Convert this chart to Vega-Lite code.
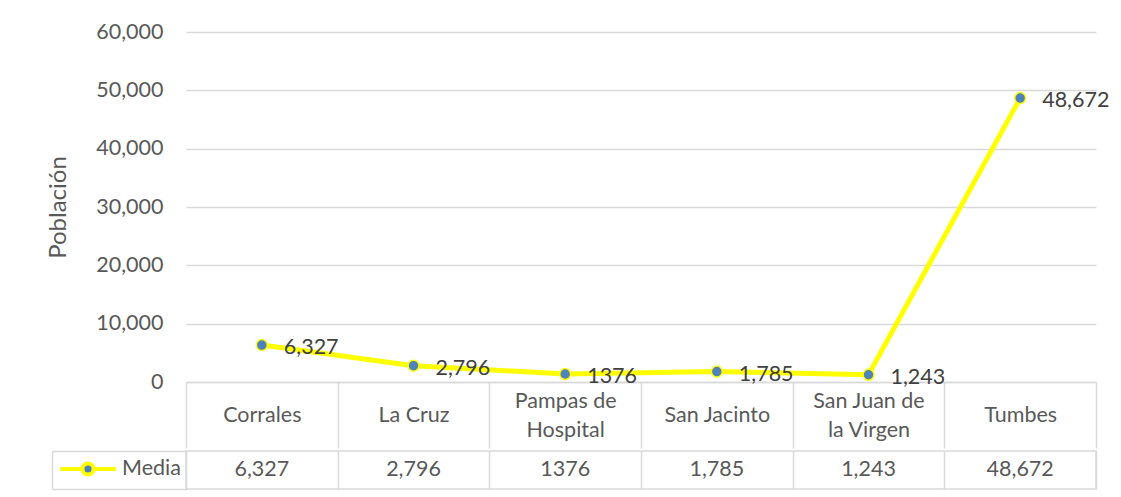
{
  "$schema": "https://vega.github.io/schema/vega-lite/v6.json",
  "padding": {"left": 46, "top": 21, "right": 10, "bottom": 5},
  "background": "white",
  "config": {"font": "Lato", "view": {"stroke": null}},
  "datasets": {
    "pob": [
      {"distrito": "Corrales", "serie": "Media", "poblacion": 6327, "etiqueta": "6,327"},
      {"distrito": "La Cruz", "serie": "Media", "poblacion": 2796, "etiqueta": "2,796"},
      {"distrito": "Pampas de Hospital", "serie": "Media", "poblacion": 1376, "etiqueta": "1376"},
      {"distrito": "San Jacinto", "serie": "Media", "poblacion": 1785, "etiqueta": "1,785"},
      {"distrito": "San Juan de la Virgen", "serie": "Media", "poblacion": 1243, "etiqueta": "1,243"},
      {"distrito": "Tumbes", "serie": "Media", "poblacion": 48672, "etiqueta": "48,672"}
    ]
  },
  "spacing": 0,
  "vconcat": [
    {
      "width": 910,
      "height": 350,
      "data": {"name": "pob"},
      "encoding": {
        "x": {
          "field": "distrito", "type": "nominal", "sort": null, "bandPosition": 0.5,
          "scale": {"type": "band", "paddingInner": 0, "paddingOuter": 0},
          "axis": {
            "title": null, "orient": "bottom", "domain": true, "domainColor": "#D9D9D9", "domainWidth": 1.5,
            "ticks": true, "tickBand": "extent", "tickSize": 66, "tickColor": "#D9D9D9", "tickWidth": 1.5,
            "labelAngle": 0, "labelFontSize": 21.5, "labelColor": "#595959",
            "labelPadding": {"condition": {"test": "indexof(['Pampas de Hospital', 'San Juan de la Virgen'], datum.value) >= 0", "value": -47}, "value": -33},
            "labelBaseline": "middle", "labelLineHeight": 29, "grid": false,
            "labelExpr": "datum.value == 'Pampas de Hospital' ? ['Pampas de', 'Hospital'] : datum.value == 'San Juan de la Virgen' ? ['San Juan de', 'la Virgen'] : datum.value"
          }
        },
        "y": {
          "field": "poblacion", "type": "quantitative",
          "scale": {"domain": [0, 60000], "nice": false},
          "axis": {
            "title": "Población", "titleFontSize": 24, "titleFontWeight": "normal", "titleColor": "#595959", "titlePadding": 25,
            "values": [0, 10000, 20000, 30000, 40000, 50000, 60000], "format": ",.0f",
            "labelFontSize": 21.5, "labelColor": "#595959", "labelPadding": 23,
            "domain": false, "ticks": false, "grid": true, "gridColor": "#D9D9D9", "gridWidth": 1.5
          }
        }
      },
      "layer": [
        {
          "mark": {"type": "line", "strokeWidth": 5},
          "encoding": {
            "stroke": {
              "field": "serie", "type": "nominal", "scale": {"range": ["#FFFF00"]},
              "legend": {
                "title": null, "orient": "none", "legendX": -128, "legendY": 407, "padding": 0,
                "symbolType": "M-1,0H-0.2M0.2,0H1M0.2,0A0.2,0.2,0,1,1,-0.2,0A0.2,0.2,0,1,1,0.2,0",
                "symbolSize": 3136, "symbolStrokeWidth": 4, "symbolFillColor": "#4F81BD", "symbolStrokeColor": "#FFFF00",
                "labelFontSize": 21.5, "labelColor": "#595959", "labelOffset": 4,
                "encode": {"symbols": {"update": {"fill": {"value": "#4F81BD"}, "fillOpacity": {"value": 1}, "stroke": {"value": "#FFFF00"}, "strokeWidth": {"value": 4}}}}
              }
            }
          }
        },
        {
          "mark": {"type": "point", "filled": true, "fill": "#4F81BD", "stroke": "#FFFF00", "strokeWidth": 1.5, "size": 120, "opacity": 1}
        },
        {
          "mark": {"type": "text", "align": "left", "baseline": "middle", "dx": 22, "dy": 3, "fontSize": 21.5, "color": "#404040"},
          "encoding": {"text": {"field": "etiqueta"}}
        }
      ]
    },
    {
      "width": 910,
      "height": 38,
      "data": {"name": "pob"},
      "view": {"stroke": "#D9D9D9", "strokeWidth": 1.5},
      "mark": {"type": "text", "fontSize": 21.5, "color": "#595959"},
      "encoding": {
        "x": {
          "field": "distrito", "type": "nominal", "sort": null,
          "scale": {"type": "band", "paddingInner": 0, "paddingOuter": 0},
          "axis": {"title": null, "labels": false, "ticks": false, "domain": false, "grid": true, "tickBand": "extent", "gridColor": "#D9D9D9", "gridWidth": 1.5}
        },
        "y": {
          "field": "serie", "type": "nominal",
          "scale": {"type": "band", "paddingInner": 0, "paddingOuter": 0},
          "axis": {"title": null, "labels": false, "domain": true, "domainColor": "#D9D9D9", "domainWidth": 1.5, "offset": 134, "ticks": true, "tickBand": "extent", "tickSize": -134, "tickColor": "#D9D9D9", "tickWidth": 1.5, "grid": false}
        },
        "text": {"field": "etiqueta"}
      }
    }
  ]
}
